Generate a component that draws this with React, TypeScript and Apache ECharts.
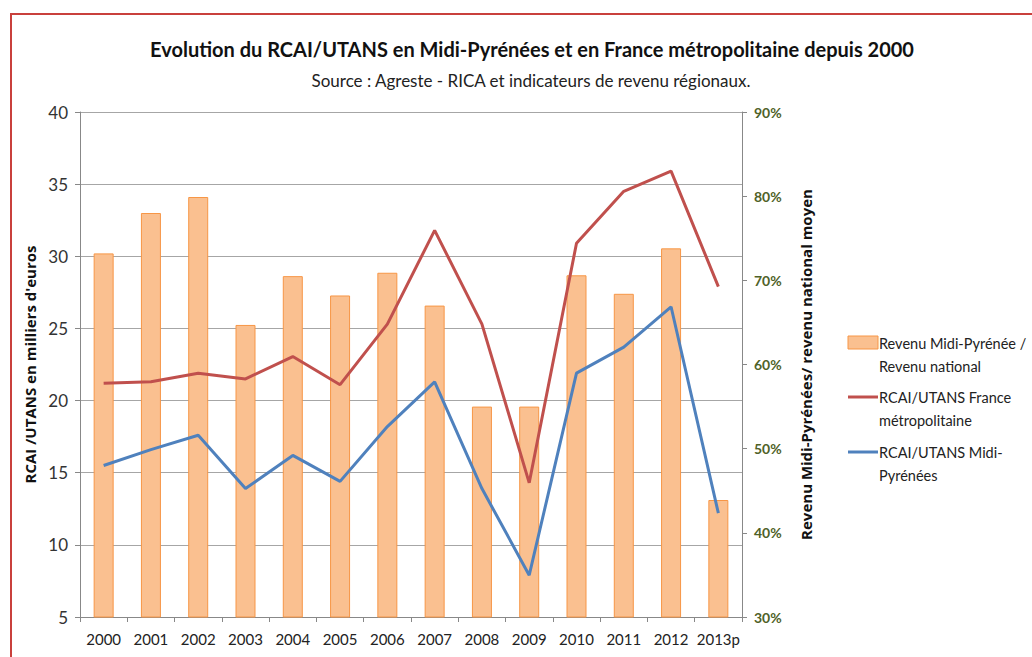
import React, { useEffect, useRef } from "react";
import * as echarts from "echarts";

const categories = ["2000", "2001", "2002", "2003", "2004", "2005", "2006", "2007", "2008", "2009", "2010", "2011", "2012", "2013p"];
const ratioMidiNational = [73.2, 78.0, 79.9, 64.7, 70.5, 68.2, 70.9, 67.0, 55.0, 55.0, 70.6, 68.4, 73.8, 43.9];
const rcaiFrance = [21.2, 21.3, 21.9, 21.5, 23.05, 21.1, 25.3, 31.8, 25.3, 14.3, 30.9, 34.5, 35.9, 27.9];
const rcaiMidi = [15.5, 16.6, 17.6, 13.9, 16.2, 14.4, 18.2, 21.3, 13.9, 7.9, 21.9, 23.7, 26.5, 12.2];
const leftTicks = { min: 5, max: 40, interval: 5 };
const rightTicks = { min: 30, max: 90, interval: 10 };

const FONT = "Lato, 'Open Sans', sans-serif";
const NAME_FONT = "'Open Sans', Lato, sans-serif";

export default function App() {
  const ref = useRef<HTMLDivElement>(null);
  useEffect(() => {
    if (!ref.current) return;
    const chart = echarts.init(ref.current, undefined, { renderer: "svg" });
    const legendText = { fontFamily: FONT, fontSize: 14.5, fill: "#222", lineHeight: 23 };
    chart.setOption({
      animation: false,
      backgroundColor: "#fff",
      textStyle: { fontFamily: FONT },
      title: [
        {
          text: "Evolution du RCAI/UTANS en Midi-Pyrénées et en France métropolitaine depuis 2000",
          left: 527,
          textAlign: "center",
          top: 34,
          textStyle: { fontFamily: FONT, fontSize: 20, fontWeight: "bold", color: "#111" },
        },
        {
          text: "Source : Agreste - RICA et indicateurs de revenu régionaux.",
          left: 526,
          textAlign: "center",
          top: 67,
          textStyle: { fontFamily: FONT, fontSize: 17, fontWeight: "normal", color: "#222" },
        },
      ],
      grid: { left: 80, right: 290, top: 112, bottom: 40, containLabel: false },
      xAxis: {
        type: "category",
        data: categories,
        boundaryGap: true,
        axisLine: { lineStyle: { color: "#888" } },
        axisTick: { show: true, interval: 0, length: 5, lineStyle: { color: "#888" } },
        axisLabel: { interval: 0, color: "#222", fontSize: 15, margin: 14, fontFamily: FONT },
      },
      yAxis: [
        {
          type: "value",
          min: leftTicks.min,
          max: leftTicks.max,
          interval: leftTicks.interval,
          name: "RCAI /UTANS en milliers d'euros",
          nameLocation: "middle",
          nameRotate: 90,
          nameGap: 42,
          nameTextStyle: { fontFamily: NAME_FONT, fontSize: 15, fontWeight: "bold", color: "#111" },
          axisLine: { show: true, lineStyle: { color: "#888" } },
          axisTick: { show: true, length: 5, lineStyle: { color: "#888" } },
          axisLabel: { color: "#333", fontSize: 17, margin: 12, fontFamily: FONT },
          splitLine: { show: true, lineStyle: { color: "#a6a6a6", width: 1 } },
        },
        {
          type: "value",
          min: rightTicks.min,
          max: rightTicks.max,
          interval: rightTicks.interval,
          position: "right",
          name: "Revenu Midi-Pyrénées/ revenu national moyen",
          nameLocation: "middle",
          nameRotate: 90,
          nameGap: 56,
          nameTextStyle: { fontFamily: NAME_FONT, fontSize: 15, fontWeight: "bold", color: "#111" },
          axisLine: { show: true, lineStyle: { color: "#888" } },
          axisTick: { show: true, length: 5, lineStyle: { color: "#888" } },
          axisLabel: { color: "#4f6228", fontSize: 14, fontWeight: "bold", margin: 12, fontFamily: FONT, formatter: "{value}%" },
          splitLine: { show: false },
        },
      ],
      series: [
        {
          name: "Revenu Midi-Pyrénée / Revenu national",
          type: "bar",
          yAxisIndex: 1,
          data: ratioMidiNational,
          barWidth: 20,
          itemStyle: { color: "#fac090", borderColor: "#f79646", borderWidth: 1 },
        },
        {
          name: "RCAI/UTANS France métropolitaine",
          type: "line",
          yAxisIndex: 0,
          data: rcaiFrance,
          symbol: "none",
          lineStyle: { color: "#c0504d", width: 3 },
        },
        {
          name: "RCAI/UTANS Midi-Pyrénées",
          type: "line",
          yAxisIndex: 0,
          data: rcaiMidi,
          symbol: "none",
          lineStyle: { color: "#4f81bd", width: 3 },
        },
      ],
      graphic: [
        {
          type: "rect",
          shape: { x: 11, y: 14, width: 1030, height: 700 },
          style: { fill: "none", stroke: "#c9403c", lineWidth: 2 },
          silent: true,
        },
        {
          type: "rect",
          shape: { x: 848, y: 336, width: 30, height: 13 },
          style: { fill: "#fac090", stroke: "#f79646", lineWidth: 1 },
        },
        {
          type: "text",
          x: 879,
          y: 332,
          style: { ...legendText, text: "Revenu Midi-Pyrénée /\nRevenu national" },
        },
        {
          type: "line",
          shape: { x1: 848, y1: 397, x2: 878, y2: 397 },
          style: { stroke: "#c0504d", lineWidth: 3 },
        },
        {
          type: "text",
          x: 879,
          y: 386,
          style: { ...legendText, text: "RCAI/UTANS France\nmétropolitaine" },
        },
        {
          type: "line",
          shape: { x1: 848, y1: 452, x2: 878, y2: 452 },
          style: { stroke: "#4f81bd", lineWidth: 3 },
        },
        {
          type: "text",
          x: 879,
          y: 441,
          style: { ...legendText, text: "RCAI/UTANS Midi-\nPyrénées" },
        },
      ],
    });
    return () => chart.dispose();
  }, []);
  return (
    <div
      ref={ref}
      style={{ position: "fixed", left: 0, top: 0, width: 1032, height: 657, background: "#fff" }}
    />
  );
}
